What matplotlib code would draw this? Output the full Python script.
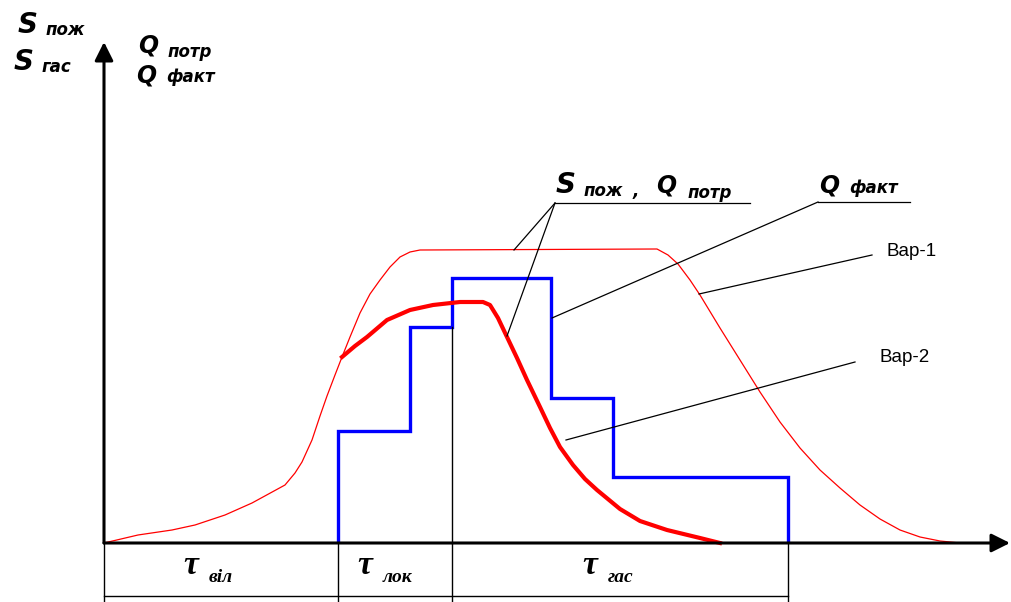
import matplotlib.pyplot as plt

# all coordinates are picture pixels (y grows downwards)
origin_x = 104
origin_y = 543

# thin red curve (Вар-1)
thin_x = [104, 138, 172, 195, 225, 252, 285, 295, 302, 312, 320, 327, 335, 342, 350, 360,
          370, 380, 390, 400, 410, 420, 657, 668, 678, 690, 700, 720, 740, 760, 780, 800,
          820, 840, 860, 880, 900, 920, 940, 960]
thin_y = [543, 535, 530, 525, 515, 503, 485, 473, 462, 440, 416, 396, 375, 357, 337, 313,
          294, 280, 267, 257, 252, 250, 249, 255, 264, 280, 295, 328, 360, 392, 422, 448,
          470, 488, 505, 519, 530, 537, 541, 543]

# thick red curve (Вар-2)
thick_x = [342, 355, 367, 387, 410, 433, 460, 483, 490, 498, 507, 517, 527, 540, 550, 560,
           573, 585, 597, 620, 640, 667, 700, 720]
thick_y = [357, 346, 337, 320, 310, 305, 302, 302, 305, 318, 337, 358, 380, 407, 428, 447,
           465, 479, 490, 509, 521, 530, 538, 543]

# blue step function (Q факт)
step_edges = [338, 410, 452, 551, 613, 788]
step_levels = [431, 327, 278, 398, 477]

# time intervals under the axis
tau_edges = [104, 338, 452, 788]
tau_names = ['віл', 'лок', 'гас']

fig = plt.figure(figsize=(10.12, 6.02), dpi=100)
ax = fig.add_axes([0, 0, 1, 1])
ax.set_xlim(0, 1012)
ax.set_ylim(602, 0)
ax.axis('off')

# axes with arrows
ax.annotate('', xy=(origin_x, 42), xytext=(origin_x, origin_y),
            arrowprops=dict(arrowstyle='-|>', lw=2.2, color='black', mutation_scale=28,
                            shrinkA=0, shrinkB=0))
ax.annotate('', xy=(1010, origin_y), xytext=(origin_x, origin_y),
            arrowprops=dict(arrowstyle='-|>', lw=2.2, color='black', mutation_scale=28,
                            shrinkA=0, shrinkB=0))

# interval table below the axis
for x in tau_edges:
    ax.plot([x, x], [origin_y, 602], color='black', lw=1.0)
ax.plot([tau_edges[0], tau_edges[-1]], [596, 596], color='black', lw=1.0)
ax.plot([452, 452], [327, origin_y], color='black', lw=1.0)

for i, name in enumerate(tau_names):
    cx = (tau_edges[i] + tau_edges[i + 1]) / 2
    ax.text(cx - 38, 566, 'τ', fontsize=24, fontweight='bold', fontstyle='italic',
            family='Liberation Serif', ha='left', va='center')
    ax.text(cx - 12, 577, name, fontsize=14, fontweight='bold', fontstyle='italic',
            family='Liberation Serif', ha='left', va='center')

# curves
ax.plot(thin_x, thin_y, color='red', lw=0.9)
ax.plot(thick_x, thick_y, color='red', lw=3.0)
ax.stairs(step_levels, step_edges, baseline=origin_y, color='blue', lw=2.4)

# leaders
lk = dict(color='black', lw=0.9)
ax.plot([555, 750], [203, 203], **lk)
ax.plot([555, 514], [203, 250], **lk)
ax.plot([555, 507], [203, 336], **lk)
ax.plot([818, 910], [202, 202], **lk)
ax.plot([818, 552], [202, 318], **lk)
ax.plot([872, 699], [255, 294], **lk)
ax.plot([855, 566], [362, 440], **lk)

# labels
bi = dict(fontweight='bold', fontstyle='italic', family='DejaVu Sans', va='baseline')
ax.text(18, 33, 'S', fontsize=20, **bi)
ax.text(46, 35, 'пож', fontsize=12, **bi)
ax.text(14, 70, 'S', fontsize=20, **bi)
ax.text(42, 72, 'гас', fontsize=12, **bi)
ax.text(138, 53, 'Q', fontsize=17, **bi)
ax.text(168, 57, 'потр', fontsize=12, **bi)
ax.text(136, 82, 'Q', fontsize=17, **bi)
ax.text(166, 82, 'факт', fontsize=12, **bi)

ax.text(556, 193, 'S', fontsize=20, **bi)
ax.text(584, 196, 'пож', fontsize=12, **bi)
ax.text(633, 196, ',', fontsize=12, **bi)
ax.text(656, 193, 'Q', fontsize=17, **bi)
ax.text(688, 198, 'потр', fontsize=12, **bi)
ax.text(819, 193, 'Q', fontsize=17, **bi)
ax.text(849, 193, 'факт', fontsize=12, **bi)

ax.text(887, 252, 'Вар-1', fontsize=13.5, family='Liberation Sans', va='center')
ax.text(880, 358, 'Вар-2', fontsize=13.5, family='Liberation Sans', va='center')

fig.savefig('out.png', dpi=100)
